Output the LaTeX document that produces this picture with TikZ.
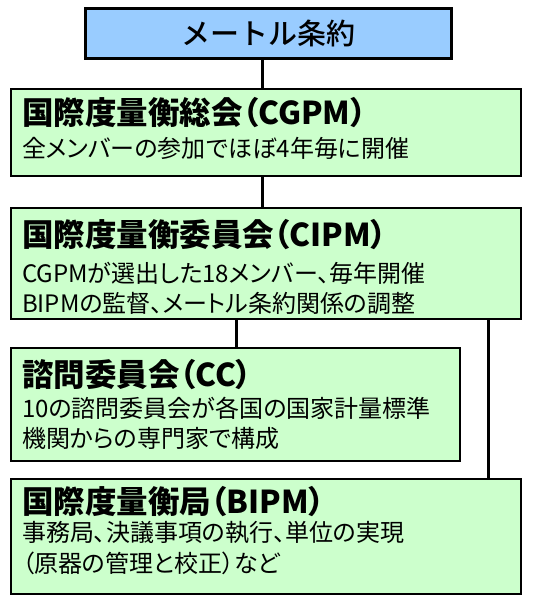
\documentclass[tikz,border=0pt]{standalone}
\usepackage{fontspec}
\newfontfamily\jp[RawFeature=+palt]{Noto Sans CJK JP}
\newfontfamily\jpmed{Noto Sans CJK JP Medium}
\definecolor{boxblue}{HTML}{99CCFF}
\definecolor{boxgreen}{HTML}{CCFFCC}
\begin{document}
\begin{tikzpicture}[x=1pt,y=1pt,
  bluebox/.style={draw=black, line width=3pt, fill=boxblue, anchor=north west, inner sep=0pt},
  greenbox/.style={draw=black, line width=2pt, fill=boxgreen, anchor=north west, inner sep=0pt},
  titletext/.style={anchor=west, inner sep=0pt, font=\jp\bfseries\fontsize{31.5}{33}\selectfont},
  bodytext/.style={anchor=west, inner sep=0pt, font=\jp\fontsize{24}{30}\selectfont},
  conn/.style={draw=black, line width=3pt}]
\useasboundingbox (0,0) rectangle (535,-602);
% boxes
\node[bluebox, minimum width=366pt, minimum height=50pt] (metre) at (84,-7) {};
\node[greenbox, minimum width=510pt, minimum height=87pt] (cgpm) at (10,-88) {};
\node[greenbox, minimum width=510pt, minimum height=111pt] (cipm) at (10,-207) {};
\node[greenbox, minimum width=449pt, minimum height=113pt] (cc) at (10,-347) {};
\node[greenbox, minimum width=510pt, minimum height=115pt] (bipm) at (10,-478) {};
% connectors
\coordinate (x1) at (262,0);
\coordinate (x2) at (236,0);
\coordinate (x3) at (488,0);
\draw[conn] (metre.south -| x1) -- (cgpm.north -| x1);
\draw[conn] (cgpm.south -| x1) -- (cipm.north -| x1);
\draw[conn] (cipm.south -| x2) -- (cc.north -| x2);
\draw[conn] (cipm.south -| x3) -- (bipm.north -| x3);
% texts
\node[anchor=center, inner sep=0pt, font=\jpmed\fontsize{29}{30}\selectfont] (t0) at (metre.center) {メートル条約};
\node[titletext] (t1) at (22,-113) {国際度量衡総会（CGPM）};
\node[bodytext] (b1) at (22,-148) {全メンバーの参加でほぼ4年毎に開催};
\node[titletext] (t2) at (22,-235) {国際度量衡委員会（CIPM）};
\node[bodytext] (b2a) at (22,-273) {CGPMが選出した18メンバー、毎年開催};
\node[bodytext] (b2b) at (22,-303) {BIPMの監督、メートル条約関係の調整};
\node[titletext] (t3) at (22,-375) {諮問委員会（CC）};
\node[bodytext] (b3a) at (22,-408) {10の諮問委員会が各国の国家計量標準};
\node[bodytext] (b3b) at (22,-438) {機関からの専門家で構成};
\node[titletext] (t4) at (22,-502) {国際度量衡局（BIPM）};
\node[bodytext] (b4a) at (22,-533) {事務局、決議事項の執行、単位の実現};
\node[bodytext] (b4b) at (22,-563) {（原器の管理と校正）など};
\end{tikzpicture}
\end{document}
